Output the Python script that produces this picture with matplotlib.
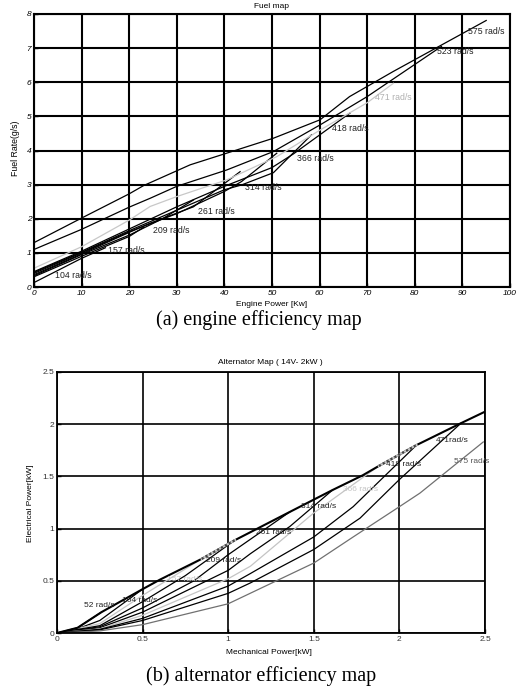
import matplotlib
matplotlib.use("Agg")
import matplotlib.pyplot as plt

plt.rcParams['font.family'] = ['Liberation Sans', 'DejaVu Sans']

# engine fuel map: one polyline per speed
eng_speeds = [104, 157, 209, 261, 314, 366, 418, 471, 523, 575]
eng_power = [
    [0, 10, 15],
    [0, 10, 20, 23],
    [0, 10, 20, 27, 33.5],
    [0, 10, 20, 24.4, 33.5, 43.3],
    [0, 10, 20, 30, 40, 43.6, 51],
    [0, 10, 20, 30, 40, 43.6, 50.3, 58.3],
    [0, 10, 20, 30, 40, 50, 54.5, 66.4],
    [0, 10, 20, 24.4, 30, 40.5, 51, 60.1, 70, 75.5],
    [0, 10, 20, 24.4, 30, 40.5, 50.3, 60.1, 70, 85.6],
    [0, 10, 20, 23, 32.8, 40, 50.3, 60.1, 66.3, 75.4, 95],
]
eng_fuel = [
    [0.13, 0.84, 1.15],
    [0.30, 0.90, 1.48, 1.75],
    [0.33, 0.95, 1.52, 2.0, 2.55],
    [0.36, 0.97, 1.60, 1.87, 2.35, 3.38],
    [0.40, 1.00, 1.62, 2.15, 2.80, 3.09, 3.92],
    [0.43, 1.02, 1.65, 2.25, 2.85, 2.99, 3.35, 4.46],
    [0.45, 1.05, 1.70, 2.35, 2.95, 3.50, 3.90, 5.10],
    [0.55, 1.18, 1.96, 2.36, 2.65, 3.14, 3.82, 4.60, 5.40, 5.97],
    [1.10, 1.69, 2.34, 2.60, 2.95, 3.43, 3.97, 4.75, 5.58, 7.05],
    [1.30, 2.02, 2.73, 2.97, 3.58, 3.90, 4.36, 4.90, 5.58, 6.31, 7.81],
]
eng_label_xy = [(4.4, 0.33), (15.5, 1.06), (25, 1.65), (34.5, 2.21), (44.3, 2.91),
                (55.2, 3.77), (62.5, 4.65), (71.6, 5.56), (84.6, 6.9), (91.2, 7.49)]
eng_gray = [471]

# alternator map
alt_speeds = [52, 104, 157, 209, 261, 314, 366, 418, 471, 575]
alt_mech = [
    [0, 0.12, 0.26],
    [0, 0.12, 0.25, 0.5],
    [0, 0.25, 0.5, 0.845],
    [0, 0.25, 0.5, 0.75, 1.04],
    [0, 0.25, 0.5, 0.8, 1.0, 1.36],
    [0, 0.25, 0.5, 1.0, 1.13, 1.36, 1.61],
    [0, 0.25, 0.5, 1.0, 1.13, 1.5, 1.88],
    [0, 0.25, 0.5, 1.0, 1.13, 1.5, 1.73, 2.1],
    [0, 0.25, 0.5, 1.0, 1.13, 1.5, 1.77, 2.0, 2.36],
    [0, 0.25, 0.5, 1.0, 1.5, 1.73, 2.0, 2.12, 2.49],
]
alt_elec = [
    [0, 0.05, 0.20],
    [0, 0.04, 0.12, 0.42],
    [0, 0.09, 0.36, 0.71],
    [0, 0.07, 0.30, 0.55, 0.89],
    [0, 0.06, 0.24, 0.50, 0.75, 1.16],
    [0, 0.05, 0.20, 0.60, 0.76, 1.02, 1.37],
    [0, 0.04, 0.17, 0.52, 0.64, 1.15, 1.60],
    [0, 0.035, 0.14, 0.45, 0.57, 0.92, 1.21, 1.80],
    [0, 0.03, 0.12, 0.38, 0.48, 0.80, 1.10, 1.47, 2.01],
    [0, 0.02, 0.08, 0.28, 0.67, 0.92, 1.21, 1.34, 1.83],
]
alt_env_mech = [0, 0.12, 0.26, 0.5, 0.6, 0.845, 1.04, 1.36, 1.61, 1.785, 1.88, 2.1, 2.36, 2.5]
alt_env_elec = [0, 0.05, 0.20, 0.42, 0.51, 0.71, 0.89, 1.16, 1.37, 1.51, 1.60, 1.80, 2.01, 2.12]
alt_env_dotted = [(5, 6), (10, 11)]
alt_labels = ["52 rad/s", "104 rad/s", "157 rad/s", "209 rad/s", "261 rad/s",
              "314 rad/s", "366 rad/s", "418 rad/s", "471rad/s", "575 rad/s"]
alt_label_xy = [(0.157, 0.268), (0.38, 0.315), (0.64, 0.516), (0.87, 0.69), (1.165, 0.96),
                (1.426, 1.21), (1.67, 1.37), (1.92, 1.61), (2.21, 1.84), (2.32, 1.64)]
alt_colors = {157: '#c4c4c4', 366: '#c4c4c4', 575: '#707070'}

W, H = 517, 692
fig = plt.figure(figsize=(W / 100, H / 100), dpi=100)


def fx(px):
    return px / W


def fy(py):
    return 1 - py / H


# ---- (a) fuel map
ax1 = fig.add_axes([fx(34), fy(287), fx(510) - fx(34), fy(14) - fy(287)])
for spd, p, f, xy in zip(eng_speeds, eng_power, eng_fuel, eng_label_xy):
    c = '#c8c8c8' if spd in eng_gray else 'black'
    ax1.plot(p, f, color=c, lw=0.9)
    ax1.text(xy[0], xy[1], f"{spd} rad/s", fontsize=6.3, color='#b0b0b0' if spd in eng_gray else '#222222',
             va='center', ha='left')
ax1.set_xlim(0, 100)
ax1.set_ylim(0, 8)
xt = list(range(0, 101, 10))
yt = list(range(0, 9))
ax1.set_xticks(xt)
ax1.set_yticks(yt)
ax1.set_xticklabels([str(v) for v in xt], fontstyle='italic', fontsize=6)
ax1.set_yticklabels([str(v) for v in yt], fontstyle='italic', fontsize=6)
ax1.tick_params(direction='in', length=3, pad=2, width=1)
ax1.grid(True, color='black', lw=1.5)
for s in ax1.spines.values():
    s.set_linewidth(1.5)

fig.text(fx(272), fy(6), "Fuel map", ha='center', va='center', fontsize=6)
fig.text(fx(272), fy(304), "Engine Power [Kw]", ha='center', va='center', fontsize=6)
fig.text(fx(15), fy(148), "Fuel Rate(g/s)", ha='center', va='center', fontsize=6.3, rotation=90)
fig.text(fx(259), fy(320), "(a) engine efficiency map", ha='center', va='center', fontsize=14.5,
         family='Liberation Serif')

# ---- (b) alternator map
ax2 = fig.add_axes([fx(57), fy(633), fx(485) - fx(57), fy(372) - fy(633)])
for spd, m, e in zip(alt_speeds, alt_mech, alt_elec):
    ax2.plot(m, e, color=alt_colors.get(spd, 'black'), lw=0.9)
ax2.plot(alt_env_mech, alt_env_elec, color='black', lw=1.5)
for i0, i1 in alt_env_dotted:
    seg_m = alt_env_mech[i0:i1 + 1]
    seg_e = alt_env_elec[i0:i1 + 1]
    ax2.plot(seg_m, seg_e, color='#c4c4c4', lw=1.6)
    ax2.plot(seg_m, seg_e, color='#444444', lw=1.6, dashes=(1, 1))
for spd, lbl, xy in zip(alt_speeds, alt_labels, alt_label_xy):
    c = alt_colors.get(spd, '#222222')
    if spd == 575:
        c = '#555555'
    ax2.text(xy[0], xy[1], lbl, fontsize=6, color=c, va='center', ha='left')
ax2.set_xlim(0, 2.5)
ax2.set_ylim(0, 2.5)
t2 = [0, 0.5, 1, 1.5, 2, 2.5]
ax2.set_xticks(t2)
ax2.set_yticks(t2)
ax2.set_xticklabels([f"{v:g}" for v in t2], fontsize=6, color='#333333')
ax2.set_yticklabels([f"{v:g}" for v in t2], fontsize=6, color='#333333')
ax2.tick_params(direction='in', length=3, pad=2, width=1)
ax2.grid(True, color='black', lw=1.2)
for s in ax2.spines.values():
    s.set_linewidth(1.3)

fig.text(fx(270), fy(363), "Alternator Map ( 14V- 2kW )", ha='center', va='center', fontsize=6)
fig.text(fx(269), fy(652), "Mechanical Power[kW]", ha='center', va='center', fontsize=6)
fig.text(fx(30), fy(503), "Electrical Power[kW]", ha='center', va='center', fontsize=6, rotation=90)
fig.text(fx(261), fy(676), "(b) alternator efficiency map", ha='center', va='center', fontsize=14.5,
         family='Liberation Serif')

fig.savefig("out.png", dpi=100)
